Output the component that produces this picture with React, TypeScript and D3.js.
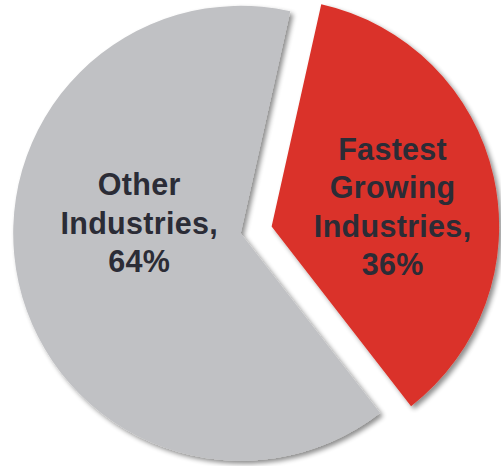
import React from "react";
import * as d3 from "d3";

const categories = ["Fastest Growing Industries", "Other Industries"];
const values = [36, 64];
const labelLines = [
  ["Fastest", "Growing", "Industries,", "36%"],
  ["Other", "Industries,", "64%"],
];
const colors = ["#DA3229", "#C0C1C4"];

const W = 501;
const H = 466;
const cx = 240.7;
const cy = 233.3;
const R = 227.5;
const explode = [31.7, 0];
const midRed = (77.4 * Math.PI) / 180;

export default function App() {
  const span0 = (values[0] / d3.sum(values)) * 2 * Math.PI;
  const start = midRed - span0 / 2;
  const pie = d3
    .pie<number>()
    .sort(null)
    .startAngle(start)
    .endAngle(start + 2 * Math.PI);
  const arcs = pie(values);
  const arc = d3.arc<d3.PieArcDatum<number>>().innerRadius(0).outerRadius(R);
  const labelArc = d3
    .arc<d3.PieArcDatum<number>>()
    .innerRadius(0)
    .outerRadius([248, 208][0]);
  const labelRadius = [124, 104];
  const labelDy = [8, -32];
  const lineH = 38.5;

  return (
    <svg
      width={W}
      height={H}
      style={{ position: "absolute", left: 0, top: 0 }}
      fontFamily="'Liberation Sans', Arial, sans-serif"
    >
      <defs>
        <filter id="shadow" x="-20%" y="-20%" width="140%" height="140%">
          <feGaussianBlur in="SourceAlpha" stdDeviation="2.5" />
          <feOffset dx="3" dy="3" result="blur" />
          <feComponentTransfer>
            <feFuncA type="linear" slope="0.45" />
          </feComponentTransfer>
          <feMerge>
            <feMergeNode />
            <feMergeNode in="SourceGraphic" />
          </feMerge>
        </filter>
      </defs>
      <g transform={`translate(${cx},${cy})`}>
        {arcs.map((a, i) => {
          const mid = (a.startAngle + a.endAngle) / 2;
          const ox = Math.sin(mid) * explode[i];
          const oy = -Math.cos(mid) * explode[i];
          return (
            <path
              key={categories[i]}
              d={arc(a) || ""}
              fill={colors[i]}
              transform={`translate(${ox},${oy})`}
              filter="url(#shadow)"
            />
          );
        })}
        {arcs.map((a, i) => {
          const mid = (a.startAngle + a.endAngle) / 2;
          const ox = Math.sin(mid) * explode[i];
          const oy = -Math.cos(mid) * explode[i];
          const lx = ox + Math.sin(mid) * labelRadius[i];
          const ly = oy - Math.cos(mid) * labelRadius[i] + labelDy[i];
          const lines = labelLines[i];
          const y0 = ly - ((lines.length - 1) * lineH) / 2;
          return (
            <text
              key={"l" + i}
              textAnchor="middle"
              fontWeight="bold"
              fontSize={30.5}
              letterSpacing={0.3}
              fill="#2B2C36"
            >
              {lines.map((t, j) => (
                <tspan key={j} x={lx} y={y0 + j * lineH + 10}>
                  {t}
                </tspan>
              ))}
            </text>
          );
        })}
      </g>
    </svg>
  );
}
